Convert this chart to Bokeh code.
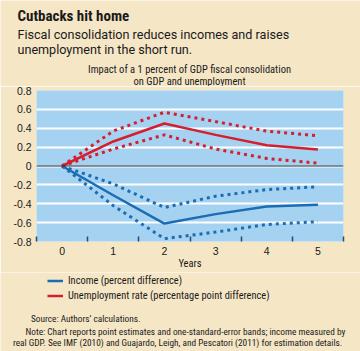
from bokeh.plotting import figure
from bokeh.layouts import column
from bokeh.models import Label, Legend, LegendItem, FixedTicker, Span, ColumnDataSource
from bokeh.embed import file_html
from bokeh.resources import INLINE

years = [0, 1, 2, 3, 4, 5]
income = [0, -0.31, -0.61, -0.51, -0.43, -0.41]
income_upper = [0, -0.19, -0.44, -0.32, -0.25, -0.22]
income_lower = [0, -0.42, -0.77, -0.70, -0.62, -0.59]
unemp = [0, 0.26, 0.45, 0.33, 0.22, 0.175]
unemp_upper = [0, 0.37, 0.57, 0.47, 0.37, 0.32]
unemp_lower = [0, 0.18, 0.33, 0.18, 0.08, 0.03]
y_ticks = [-0.8, -0.6, -0.4, -0.2, 0, 0.2, 0.4, 0.6, 0.8]
y_tick_labels = ["-0.8", "-0.6", "-0.4", "-0.2", "0", "0.2", "0.4", "0.6", "0.8"]

BG = "#f5e6c6"
PLOT_BG = "#a6d2f1"
BLUE = "#1b6cb5"
RED = "#d41f2e"
COND = "Roboto Condensed"
SANS = "Roboto"
NUMFONT = "Liberation Sans"
TXT = "#1a1a1a"

HEAD_H = 86
MAIN_END = 272
FOOT_H = 351 - MAIN_END

src = ColumnDataSource(dict(x=years, inc=income, incu=income_upper, incl=income_lower,
                            un=unemp, unu=unemp_upper, unl=unemp_lower))


def blank(h, xr=(0, 1)):
    f = figure(width=360, height=h, x_range=xr, y_range=(0, 1),
               x_axis_location=None, y_axis_location=None,
               output_backend="svg", toolbar_location=None,
               min_border=0, min_border_left=0, min_border_right=0,
               min_border_top=0, min_border_bottom=0)
    f.frame_align = False
    f.grid.visible = False
    f.outline_line_color = None
    f.background_fill_color = BG
    f.border_fill_color = BG
    return f


def lab(f, h, text, cx, cy, size, font=COND, bold=False, align="left", top=0):
    f.add_layout(Label(x=cx, y=h - (cy - top), x_units="screen", y_units="screen", text=text,
                       text_font=font, text_font_size=size, text_color=TXT,
                       text_font_style="bold" if bold else "normal",
                       text_align=align, text_baseline="alphabetic"))


# header
head = blank(HEAD_H)
lab(head, HEAD_H, "Cutbacks hit home", 17, 15.7, "15px", bold=True)
lab(head, HEAD_H, "Fiscal consolidation reduces incomes and raises", 17, 34.3, "12.6px", font=SANS)
lab(head, HEAD_H, "unemployment in the short run.", 17, 49.3, "12.6px", font=SANS)
lab(head, HEAD_H, "Impact of a 1 percent of GDP fiscal consolidation", 189, 69.3, "10.5px", align="center")
lab(head, HEAD_H, "on GDP and unemployment", 189, 80.5, "10.5px", align="center")

# main chart
p = figure(width=360, height=MAIN_END - HEAD_H, x_range=(-0.5, 5.5), y_range=(-0.8, 0.8),
           output_backend="svg", toolbar_location=None,
           min_border_left=36, min_border_right=17, min_border_top=90 - HEAD_H,
           min_border_bottom=MAIN_END - 244)
p.frame_align = False
p.background_fill_color = PLOT_BG
p.border_fill_color = BG
p.outline_line_color = None

p.xgrid.grid_line_color = None
p.ygrid.grid_line_color = "white"
p.ygrid.grid_line_width = 2
p.ygrid.ticker = FixedTicker(ticks=y_ticks)

p.add_layout(Span(location=0, dimension="width", line_color="#1f2a33", line_width=1))

for col in ["incu", "incl"]:
    p.line("x", col, source=src, line_color=BLUE, line_width=3, line_dash="3 4")
for col in ["unu", "unl"]:
    p.line("x", col, source=src, line_color=RED, line_width=3, line_dash="3 4")
p.line("x", "inc", source=src, line_color=BLUE, line_width=2.5)
p.line("x", "un", source=src, line_color=RED, line_width=2.5)

p.xaxis.ticker = FixedTicker(ticks=years, minor_ticks=[-0.5, 0.5, 1.5, 2.5, 3.5, 4.5, 5.5])
p.xaxis.axis_line_color = None
p.xaxis.major_tick_line_color = None
p.xaxis.major_tick_out = 0
p.xaxis.major_tick_in = 0
p.xaxis.minor_tick_line_color = "#2b4a66"
p.xaxis.minor_tick_line_width = 1.5
p.xaxis.minor_tick_in = 5
p.xaxis.minor_tick_out = 0
p.xaxis.major_label_standoff = 5
p.xaxis.major_label_text_font = NUMFONT
p.xaxis.major_label_text_font_size = "10.5px"
p.xaxis.major_label_text_color = TXT
p.xaxis.axis_label = "Years"
p.xaxis.axis_label_standoff = -1
p.xaxis.axis_label_text_font = COND
p.xaxis.axis_label_text_font_style = "normal"
p.xaxis.axis_label_text_font_size = "10.5px"
p.xaxis.axis_label_text_color = TXT

p.yaxis.ticker = FixedTicker(ticks=y_ticks)
p.yaxis.major_label_overrides = {t: l for t, l in zip(y_ticks, y_tick_labels)}
p.yaxis.axis_line_color = None
p.yaxis.major_tick_line_color = None
p.yaxis.major_tick_out = 0
p.yaxis.minor_tick_line_color = None
p.yaxis.major_label_standoff = 5
p.yaxis.major_label_text_font = NUMFONT
p.yaxis.major_label_text_font_size = "10.5px"
p.yaxis.major_label_text_color = TXT

# footer (legend + notes); its x range keeps the legend's source lines out of view
foot = blank(FOOT_H, xr=(-30, -20))
g_inc = foot.line("x", "inc", source=src, line_color=BLUE, line_width=2.5)
g_un = foot.line("x", "un", source=src, line_color=RED, line_width=2.5)
leg_top = 274.2 - MAIN_END
legend = Legend(items=[LegendItem(label="Income (percent difference)", renderers=[g_inc]),
                       LegendItem(label="Unemployment rate (percentage point difference)", renderers=[g_un])],
                location=(47, FOOT_H - leg_top - 28))
legend.background_fill_alpha = 0
legend.border_line_alpha = 0
legend.padding = 0
legend.margin = 0
legend.spacing = 2
legend.glyph_width = 16
legend.glyph_height = 13
legend.label_height = 13
legend.label_standoff = 5
legend.label_text_font = COND
legend.label_text_font_size = "10.4px"
legend.label_text_color = TXT
legend.label_text_baseline = "middle"
foot.add_layout(legend)

lab(foot, FOOT_H, "Source: Authors\u2019 calculations.", 30.5, 317.5, "9.3px", top=MAIN_END)
lab(foot, FOOT_H, "Note: Chart reports point estimates and one-standard-error bands; income measured by", 25, 330.5, "9.3px", top=MAIN_END)
lab(foot, FOOT_H, "real GDP. See IMF (2010) and Guajardo, Leigh, and Pescatori (2011) for estimation details.", 12.5, 342.3, "9.3px", top=MAIN_END)

layout = column(head, p, foot, spacing=0)
open("out.html", "w").write(file_html(layout, INLINE))
